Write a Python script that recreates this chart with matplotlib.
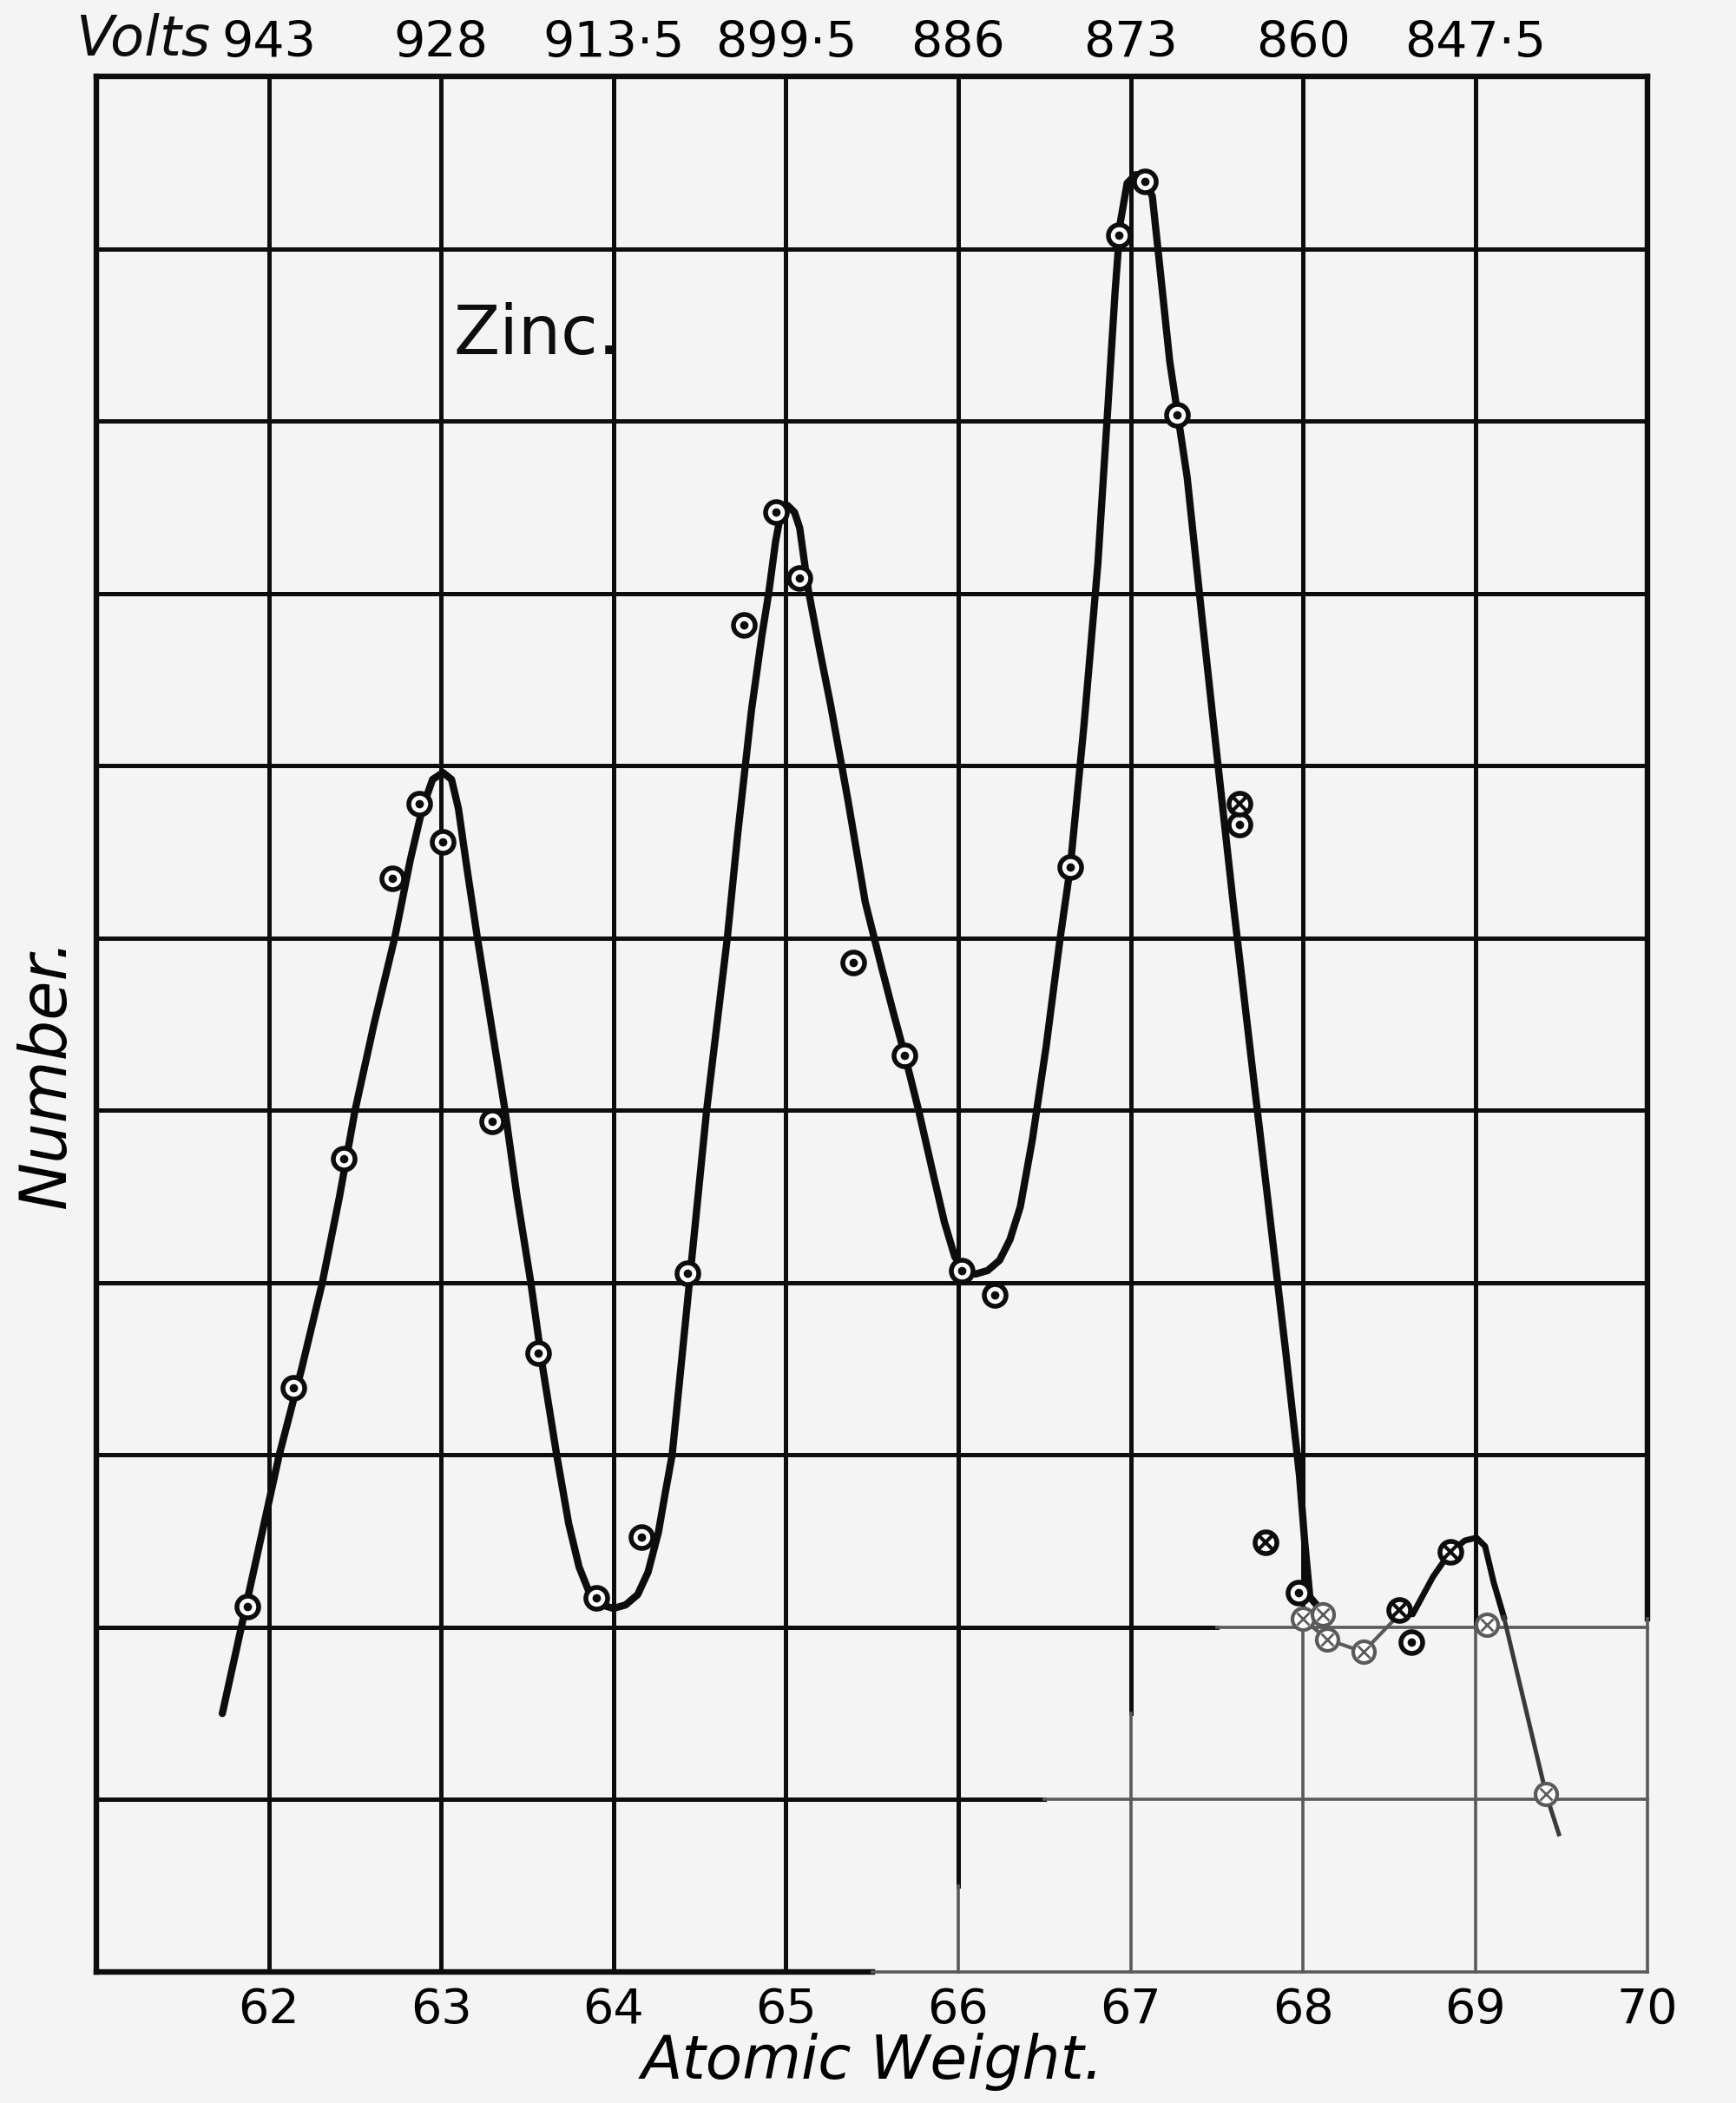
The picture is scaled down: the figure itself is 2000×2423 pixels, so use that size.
import matplotlib
matplotlib.use("Agg")
import matplotlib.pyplot as plt
import matplotlib.transforms as mtransforms

# ---- data (Zinc, number vs atomic weight) ----
# plain dotted circles
aw_pts = [61.876, 62.140, 62.436, 62.718, 62.873, 63.006, 63.297, 63.561,
          63.901, 64.163, 64.428, 64.758, 64.943, 65.077, 65.391, 65.69,
          66.02, 66.21, 66.65, 66.933, 67.084, 67.268, 67.63, 67.974, 68.63]
num_pts = [2.123, 3.392, 4.718, 6.345, 6.779, 6.557, 4.934, 3.590,
           2.173, 2.526, 4.057, 7.819, 8.474, 8.087, 5.860, 5.32,
           4.07, 3.93, 6.41, 10.077, 10.39, 9.036, 6.66, 2.201, 1.916]

# crossed circles
aw_cross = [67.63, 67.781, 68.56, 68.855]
num_cross = [6.78, 2.495, 2.10, 2.437]

# faint (grey) circles in the washed-out corner
aw_faint = [68.00, 68.117, 68.14, 68.35, 69.066, 69.41]
num_faint = [2.05, 2.076, 1.93, 1.857, 2.017, 1.034]

# main hand-drawn curve
curve_x = [61.73, 61.84, 61.95, 62.06, 62.19, 62.31, 62.41, 62.50, 62.61, 62.73,
           62.82, 62.89, 62.95, 63.01, 63.06, 63.10, 63.15, 63.21, 63.29, 63.37,
           63.44, 63.52, 63.59, 63.67, 63.74, 63.80, 63.86, 63.93, 64.00, 64.07,
           64.14, 64.20, 64.26, 64.30, 64.34, 64.39, 64.44, 64.49, 64.54, 64.60,
           64.66, 64.72, 64.80, 64.86, 64.90, 64.94, 64.97, 65.01, 65.05, 65.08,
           65.13, 65.20, 65.26, 65.36, 65.46, 65.55, 65.62, 65.69, 65.77, 65.85,
           65.92, 65.98, 66.04, 66.10, 66.17, 66.24, 66.30, 66.36, 66.43, 66.51,
           66.59, 66.65, 66.73, 66.81, 66.87, 66.91, 66.94, 66.98, 67.03, 67.08,
           67.126, 67.16, 67.227, 67.328, 67.41, 67.49, 67.545,
           67.60, 67.70, 67.80, 67.90, 67.98, 68.01, 68.04, 68.09]
curve_y = [1.50, 2.00, 2.50, 3.00, 3.50, 4.00, 4.50, 5.00, 5.50, 6.00,
           6.45, 6.75, 6.92, 6.96, 6.92, 6.75, 6.40, 6.00, 5.50, 5.00,
           4.50, 4.00, 3.50, 3.00, 2.60, 2.35, 2.20, 2.13, 2.11, 2.13,
           2.19, 2.32, 2.55, 2.78, 3.00, 3.50, 4.00, 4.50, 5.00, 5.50,
           6.00, 6.60, 7.32, 7.75, 8.00, 8.30, 8.46, 8.51, 8.47, 8.38,
           8.02, 7.65, 7.35, 6.80, 6.21, 5.85, 5.58, 5.32, 5.00, 4.65,
           4.35, 4.15, 4.07, 4.05, 4.07, 4.13, 4.25, 4.44, 4.83, 5.37,
           5.99, 6.41, 7.24, 8.17, 9.11, 9.75, 10.15, 10.38, 10.43, 10.40,
           10.304, 9.985, 9.347, 8.675, 7.90, 7.16, 6.66,
           6.16, 5.30, 4.45, 3.60, 2.88, 2.50, 2.176, 2.117]

# small secondary hump after 68
tail_x = [68.56, 68.637, 68.755, 68.855, 68.94, 69.007, 69.057, 69.107, 69.166]
tail_y = [2.10, 2.076, 2.294, 2.437, 2.504, 2.52, 2.47, 2.26, 2.059]
tail_faint_x = [69.166, 69.41, 69.485]
tail_faint_y = [2.059, 1.034, 0.80]

# faint connecting line through the grey circles
link_x = [68.00, 68.14, 68.35, 68.56]
link_y = [2.05, 1.93, 1.857, 2.076]

weights = [62, 63, 64, 65, 66, 67, 68, 69, 70]
volts = ["943", "928", "913·5", "899·5", "886", "873", "860", "847·5"]

BG = "#f4f4f4"
INK = "#0d0d0d"
FADE = "#5a5a5a"

fig = plt.figure(figsize=(20, 24.23), dpi=100, facecolor=BG)
ax = fig.add_axes([0.0556, 0.0623, 0.8935, 0.9014], facecolor=BG)
ax.set_xlim(61, 70)
ax.set_ylim(0, 11)
for s in ax.spines.values():
    s.set_visible(False)

# grid: the lower right corner of the scan is washed out to grey
v_split = {66: 0.5, 67: 1.5, 68: 2.0, 69: 2.0, 70: 2.05}
h_split = {0: 65.5, 1: 66.5, 2: 67.5}
for gx in range(61, 71):
    lw = 4.6 if gx in (61, 70) else 3.6
    ys = v_split.get(gx, 0)
    ax.plot([gx, gx], [ys, 11], color=INK, lw=lw, solid_capstyle="projecting",
            clip_on=False, zorder=1)
    if ys > 0:
        ax.plot([gx, gx], [0, ys], color=FADE, lw=2.6, clip_on=False, zorder=1)
for gy in range(0, 12):
    lw = 4.6 if gy in (0, 11) else 3.6
    xs = h_split.get(gy, 70)
    ax.plot([61, xs], [gy, gy], color=INK, lw=lw, solid_capstyle="projecting",
            clip_on=False, zorder=1)
    if xs < 70:
        ax.plot([xs, 70], [gy, gy], color=FADE, lw=2.6, clip_on=False, zorder=1)

# curves
ax.plot(curve_x, curve_y, color=INK, lw=6, solid_joinstyle="round",
        solid_capstyle="round", zorder=3)
ax.plot(tail_x, tail_y, color=INK, lw=5, solid_joinstyle="round", zorder=3)
ax.plot(tail_faint_x, tail_faint_y, color="#3a3a3a", lw=3.6, zorder=3)
ax.plot(link_x, link_y, color=FADE, lw=3, zorder=3)

# observations
ring = dict(linestyle="none", marker="o", markersize=18, markerfacecolor="white",
            markeredgewidth=4, zorder=5)
ax.plot(aw_pts, num_pts, markeredgecolor=INK, **ring)
ax.plot(aw_pts, num_pts, linestyle="none", marker="o", markersize=6,
        color=INK, zorder=6)
ax.plot(aw_cross, num_cross, markeredgecolor=INK, **ring)
ax.plot(aw_cross, num_cross, linestyle="none", marker="x", markersize=11,
        markeredgewidth=3, color=INK, zorder=6)
ax.plot(aw_faint, num_faint, markeredgecolor=FADE, **{**ring, "markeredgewidth": 3})
ax.plot(aw_faint, num_faint, linestyle="none", marker="x", markersize=10,
        markeredgewidth=2, color=FADE, zorder=6)

# bottom scale
ax.set_xticks(weights)
ax.set_xticklabels([str(w) for w in weights], fontsize=40, family="DejaVu Sans")
ax.set_yticks([])
ax.tick_params(axis="x", length=0, pad=12)
ax.set_xlabel("Atomic Weight.", fontsize=50, style="italic")
ax.xaxis.set_label_coords(0.5, -0.032)
ax.xaxis.label.set_va("top")
ax.set_ylabel("Number.", fontsize=53, style="italic")
ax.yaxis.set_label_coords(-0.012, 0.474)

# top scale in volts
top = ax.twiny()
top.set_xlim(ax.get_xlim())
top.set_xticks(weights[:-1])
top.set_xticklabels(volts, fontsize=41, family="DejaVu Sans")
top.tick_params(axis="x", length=0, pad=7)
for s in top.spines.values():
    s.set_visible(False)
trans = mtransforms.blended_transform_factory(ax.transData, ax.transAxes)
ax.text(61.66, 1.0 + 11 / (0.9014 * 2423), "Volts", transform=trans,
        ha="right", va="bottom", fontsize=46, style="italic", color=INK)

ax.text(63.07, 9.5, "Zinc.", fontsize=56, ha="left", va="center", color=INK,
        family="DejaVu Sans", zorder=7)

fig.savefig("out.png", dpi=100, facecolor=BG)
